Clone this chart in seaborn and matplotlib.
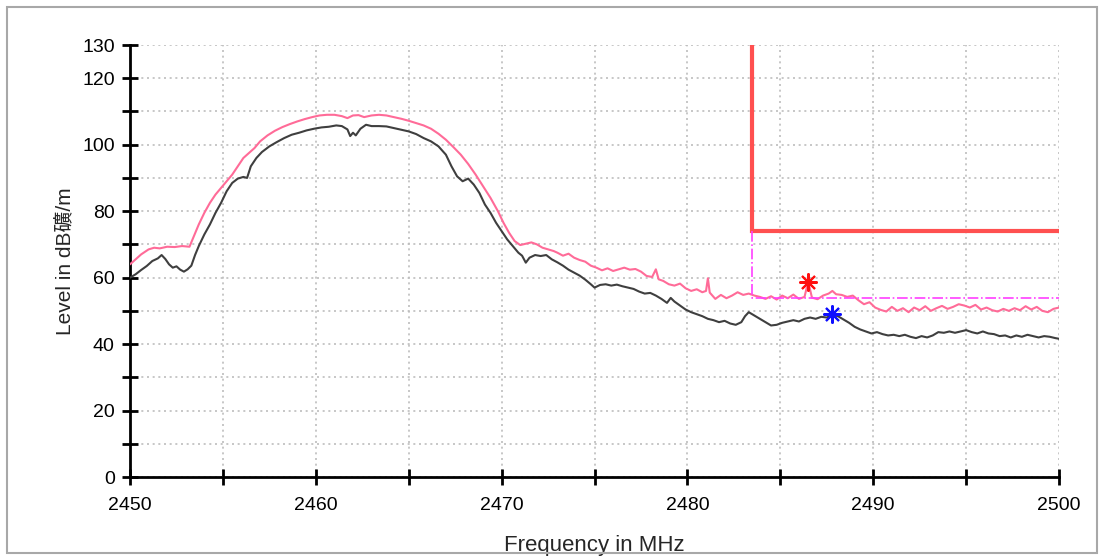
import matplotlib
matplotlib.use("Agg")
import matplotlib.pyplot as plt
from matplotlib.patches import Rectangle
from matplotlib.ticker import FixedLocator, FixedFormatter
import pandas as pd
import seaborn as sns

# peak trace (pink)
peak_freq = [
    2450.0, 2450.3, 2450.6, 2451.0, 2451.3, 2451.6, 2452.0, 2452.4, 2452.8, 2453.2,
    2453.4, 2453.7, 2454.0, 2454.3, 2454.6, 2454.9, 2455.2, 2455.5, 2455.8, 2456.1,
    2456.4, 2456.7, 2457.0, 2457.4, 2457.8, 2458.2, 2458.6, 2459.0, 2459.4, 2459.8,
    2460.2, 2460.6, 2461.0, 2461.4, 2461.7, 2462.0, 2462.3, 2462.6, 2463.0, 2463.4,
    2463.8, 2464.2, 2464.6, 2465.0, 2465.4, 2465.8, 2466.2, 2466.6, 2467.0, 2467.4,
    2467.8, 2468.2, 2468.6, 2469.0, 2469.4, 2469.8, 2470.1, 2470.4, 2470.7, 2471.0,
    2471.3, 2471.6, 2471.9, 2472.2, 2472.5, 2472.8, 2473.0, 2473.3, 2473.6, 2473.9,
    2474.2, 2474.5, 2474.8, 2475.1, 2475.4, 2475.7, 2476.0, 2476.3, 2476.6, 2476.9,
    2477.2, 2477.5, 2477.8, 2478.1, 2478.3, 2478.45, 2478.7, 2479.0, 2479.3, 2479.6,
    2479.9, 2480.2, 2480.5, 2480.8, 2481.0, 2481.1, 2481.2, 2481.5, 2481.8, 2482.1,
    2482.4, 2482.7, 2483.0, 2483.3, 2483.6, 2483.9, 2484.2, 2484.5, 2484.8, 2485.1,
    2485.4, 2485.7, 2486.0, 2486.3, 2486.5, 2486.7, 2487.0, 2487.3, 2487.6, 2487.8,
    2488.0, 2488.3, 2488.6, 2488.9, 2489.2, 2489.5, 2489.8, 2490.1, 2490.4, 2490.7,
    2491.0, 2491.3, 2491.6, 2491.9, 2492.2, 2492.5, 2492.8, 2493.1, 2493.4, 2493.7,
    2494.0, 2494.3, 2494.6, 2494.9, 2495.2, 2495.5, 2495.8, 2496.1, 2496.4, 2496.7,
    2497.0, 2497.3, 2497.6, 2497.9, 2498.2, 2498.5, 2498.8, 2499.1, 2499.4, 2499.7,
    2500.0,
]
peak_level = [
    64.0, 65.5, 67.0, 68.5, 69.0, 68.8, 69.3, 69.2, 69.5, 69.3,
    72.0, 76.0, 79.5, 82.5, 85.0, 87.0, 89.0, 91.0, 93.5, 96.0,
    97.5, 99.0, 101.0, 102.8, 104.2, 105.3, 106.2, 107.0, 107.7, 108.3,
    108.8, 109.0, 109.0, 108.6, 108.0, 108.8, 108.9, 108.3, 108.8, 109.0,
    108.8, 108.3, 107.8, 107.2, 106.5, 105.8, 104.8, 103.3, 101.5, 99.3,
    97.0, 94.2, 91.0, 87.5, 84.0, 80.0, 76.5, 73.5, 71.0, 69.8,
    70.2, 70.6, 70.0, 69.0, 68.5, 68.0, 67.5, 66.6, 67.2, 66.0,
    65.3, 64.8, 63.6, 63.0, 62.2, 62.8, 62.0, 62.5, 63.0, 62.4,
    62.6, 61.8, 60.5, 60.2, 62.5, 59.5, 59.0, 58.0, 57.6, 58.2,
    56.8, 56.0, 56.5, 55.6, 56.0, 59.8, 55.5, 53.6, 54.8, 53.8,
    54.6, 55.6, 54.8, 55.2, 54.6, 54.2, 53.6, 54.4, 53.4, 54.6,
    53.8, 54.9, 53.6, 54.2, 58.8, 54.0, 53.5, 54.6, 55.2, 56.0,
    55.0, 54.8, 54.2, 54.6, 53.2, 52.0, 52.6, 51.0, 50.3, 49.8,
    51.2, 50.0, 50.8, 49.6, 51.0, 50.2, 51.4, 50.0, 50.8, 51.5,
    50.6, 51.2, 52.0, 51.6, 51.0, 51.8, 50.4, 51.0, 50.2, 49.8,
    50.6, 50.0, 50.8, 50.2, 51.4, 50.4, 51.2, 50.0, 49.6, 50.6,
    51.0,
]

# average trace (dark gray)
avg_freq = [
    2450.0, 2450.3, 2450.6, 2450.9, 2451.2, 2451.5, 2451.7, 2451.9, 2452.1, 2452.3,
    2452.5, 2452.7, 2452.9, 2453.1, 2453.3, 2453.5, 2453.7, 2454.0, 2454.3, 2454.6,
    2454.9, 2455.2, 2455.5, 2455.8, 2456.1, 2456.3, 2456.5, 2456.8, 2457.1, 2457.5,
    2457.9, 2458.3, 2458.7, 2459.1, 2459.5, 2459.9, 2460.3, 2460.7, 2461.1, 2461.4,
    2461.7, 2461.85, 2462.0, 2462.15, 2462.4, 2462.7, 2463.0, 2463.4, 2463.8, 2464.2,
    2464.6, 2465.0, 2465.4, 2465.8, 2466.2, 2466.6, 2467.0, 2467.3, 2467.6, 2467.9,
    2468.2, 2468.5, 2468.8, 2469.1, 2469.4, 2469.7, 2470.0, 2470.3, 2470.6, 2470.9,
    2471.1, 2471.3, 2471.5, 2471.8, 2472.1, 2472.4, 2472.7, 2473.0, 2473.3, 2473.6,
    2473.9, 2474.2, 2474.5, 2474.8, 2475.0, 2475.3, 2475.6, 2475.9, 2476.2, 2476.5,
    2476.8, 2477.1, 2477.4, 2477.7, 2478.0, 2478.3, 2478.6, 2478.9, 2479.1, 2479.3,
    2479.6, 2479.9, 2480.2, 2480.5, 2480.8, 2481.1, 2481.4, 2481.7, 2482.0, 2482.3,
    2482.6, 2482.9, 2483.1, 2483.3, 2483.6, 2483.9, 2484.2, 2484.5, 2484.8, 2485.1,
    2485.4, 2485.7, 2486.0, 2486.3, 2486.6, 2486.9, 2487.2, 2487.5, 2487.8, 2488.1,
    2488.4, 2488.7, 2489.0, 2489.3, 2489.6, 2489.9, 2490.2, 2490.5, 2490.8, 2491.1,
    2491.4, 2491.7, 2492.0, 2492.3, 2492.6, 2492.9, 2493.2, 2493.5, 2493.8, 2494.1,
    2494.4, 2494.7, 2495.0, 2495.3, 2495.6, 2495.9, 2496.2, 2496.5, 2496.8, 2497.1,
    2497.4, 2497.7, 2498.0, 2498.3, 2498.6, 2498.9, 2499.2, 2499.5, 2499.8, 2500.0,
]
avg_level = [
    60.0, 61.0, 62.3, 63.5, 65.0, 65.8, 66.8, 65.6, 64.0, 63.0,
    63.4, 62.4, 61.8, 62.5, 63.6, 66.8, 69.5, 73.0, 76.0, 79.5,
    82.5, 86.0, 88.5, 89.8, 90.3, 90.0, 93.5, 96.0, 97.8, 99.5,
    100.8, 102.0, 103.0, 103.6, 104.3, 104.8, 105.2, 105.4, 105.8, 105.6,
    104.6, 102.6, 103.6, 102.8, 104.8, 106.0, 105.6, 105.6, 105.5, 105.0,
    104.5, 104.0, 103.2, 102.0, 101.0, 99.5, 97.0, 93.5, 90.5, 89.0,
    89.8, 88.0, 85.5, 82.0, 79.5, 76.5, 74.0, 71.5, 69.5, 67.5,
    66.6, 64.5, 66.0, 66.8, 66.5, 66.8, 65.5, 64.6, 63.6, 62.4,
    61.5, 60.6, 59.4, 58.0, 57.0, 57.8, 58.0, 57.6, 57.9, 57.4,
    57.0, 56.6, 55.8, 55.2, 55.4, 54.6, 53.6, 52.4, 53.9, 52.8,
    51.6, 50.4, 49.6, 49.0, 48.4, 47.6, 47.2, 46.6, 47.0, 46.2,
    45.8, 46.6, 48.4, 49.6, 48.6, 47.6, 46.6, 45.6, 45.8, 46.4,
    46.8, 47.2, 46.8, 47.6, 48.0, 47.6, 48.2, 48.0, 48.8, 48.4,
    47.4, 46.4, 45.2, 44.4, 43.8, 43.2, 43.6, 43.0, 42.6, 42.8,
    42.4, 42.8, 42.2, 41.8, 42.4, 42.0, 42.6, 43.6, 43.4, 43.8,
    43.4, 43.8, 44.2, 43.6, 43.2, 43.8, 43.2, 43.0, 42.4, 42.6,
    42.0, 42.6, 42.2, 42.8, 42.4, 42.0, 42.4, 42.2, 41.8, 41.6,
]

# limit lines
limit_freq = [2483.5, 2483.5, 2500.0]
peak_limit = [130.0, 74.0, 74.0]
avg_limit_freq = [2483.5, 2483.5, 2500.0]
avg_limit = [74.0, 54.0, 54.0]

# markers
peak_marker = (2486.5, 58.8)
avg_marker = (2487.8, 49.2)

y_ticks = list(range(0, 131, 10))
y_labels = ["0", "", "20", "", "40", "", "60", "", "80", "", "100", "", "120", "130"]
x_ticks = list(range(2450, 2501, 5))
x_labels = ["2450", "", "2460", "", "2470", "", "2480", "", "2490", "", "2500"]

sns.set_style("white")
plt.rcParams["font.family"] = ["Liberation Sans", "Noto Sans CJK KR", "DejaVu Sans"]

fig = plt.figure(figsize=(11.01, 5.57), dpi=100)
ax = fig.add_axes([0.1181, 0.1436, 0.9619 - 0.1181, 0.9192 - 0.1436])

peak_df = pd.DataFrame({"freq": peak_freq, "level": peak_level})
avg_df = pd.DataFrame({"freq": avg_freq, "level": avg_level})
sns.lineplot(data=peak_df, x="freq", y="level", ax=ax, color="#ff6b98", lw=1.5, zorder=3)
sns.lineplot(data=avg_df, x="freq", y="level", ax=ax, color="#3f3f3f", lw=1.5, zorder=3)

ax.plot(limit_freq, peak_limit, color="#ff5050", lw=3, solid_joinstyle="miter", zorder=4)
ax.plot(avg_limit_freq, avg_limit, color="#ff40ff", lw=1.2, ls="-.", zorder=4)

ax.plot(*peak_marker, marker=(8, 2, 0), ms=13, mew=1.5, color="#ff1010", zorder=5)
ax.plot(*avg_marker, marker=(8, 2, 0), ms=13, mew=1.5, color="#1010ff", zorder=5)

ax.set_xlim(2450, 2500)
ax.set_ylim(0, 130)
ax.yaxis.set_major_locator(FixedLocator(y_ticks))
ax.yaxis.set_major_formatter(FixedFormatter(y_labels))
ax.xaxis.set_major_locator(FixedLocator(x_ticks))
ax.xaxis.set_major_formatter(FixedFormatter(x_labels))

ax.grid(True, color="#bdbdbd", ls=(0, (1.2, 2.2)), lw=1.2)
for side in ["top", "right"]:
    ax.spines[side].set_visible(False)
for side in ["left", "bottom"]:
    ax.spines[side].set_color("black")
    ax.spines[side].set_linewidth(2)

ax.tick_params(axis="y", direction="inout", length=12, width=2, pad=5, labelsize=14, colors="black", left=True)
ax.tick_params(axis="x", direction="inout", length=11, width=2, pad=9, labelsize=14, colors="black", bottom=True)

ax.set_xlabel("Frequency in MHz", fontsize=16, labelpad=15)
ax.set_ylabel("Level in dB礦/m", fontsize=15, labelpad=5)

fig.patches.append(Rectangle((7 / 1101, 4 / 557), 1090 / 1101, 546 / 557, transform=fig.transFigure,
                             fill=False, edgecolor="#a8a8a8", lw=1.5))

fig.savefig("out.png", dpi=100)
